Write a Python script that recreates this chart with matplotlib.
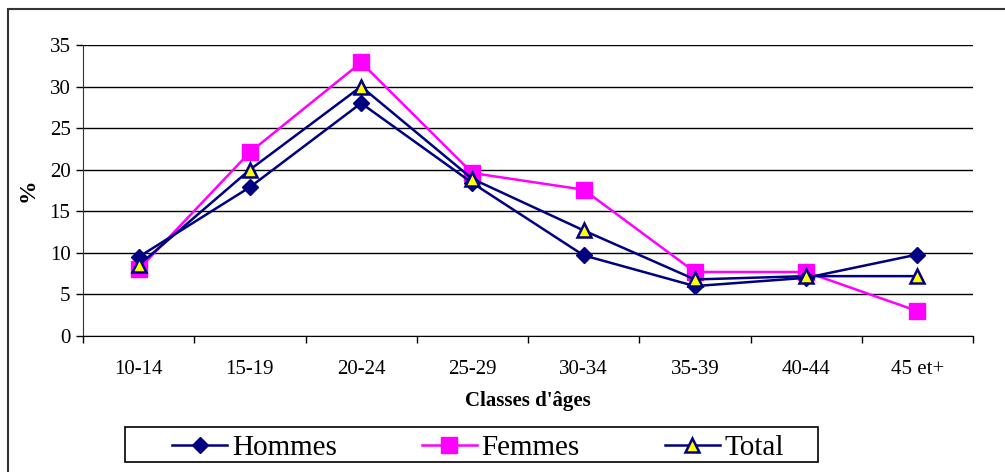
import matplotlib.pyplot as plt
import matplotlib.patches as mpatches

plt.rcParams.update({
    "font.family": ["Liberation Serif", "DejaVu Serif"],
})

NAVY = "#000080"
MAGENTA = "#FF00FF"
YELLOW = "#FFFF00"

classes = ["10-14", "15-19", "20-24", "25-29", "30-34", "35-39", "40-44", "45 et+"]
hommes = [9.5, 17.9, 28.0, 18.4, 9.7, 6.0, 7.0, 9.8]
femmes = [8.0, 22.1, 32.9, 19.6, 17.6, 7.7, 7.7, 3.0]
total = [8.5, 20.0, 30.0, 18.9, 12.7, 6.8, 7.2, 7.2]

W, H = 1005, 472
fig = plt.figure(figsize=(W / 100, H / 100), dpi=100)
ax = fig.add_axes([83 / W, 1 - 336 / H, (973 - 83) / W, (336 - 45) / H])

x = list(range(len(classes)))
ax.plot(x, hommes, color=NAVY, lw=1.8, marker="D", ms=8,
        mfc=NAVY, mec=NAVY, label="Hommes", zorder=3)
ax.plot(x, femmes, color=MAGENTA, lw=1.8, marker="s", ms=11,
        mfc=MAGENTA, mec=MAGENTA, label="Femmes", zorder=2)
ax.plot(x, total, color=NAVY, lw=1.8, marker="^", ms=10,
        mfc=YELLOW, mec=NAVY, mew=1.8, label="Total", zorder=4)

ax.set_xlim(-0.5, len(classes) - 0.5)
ax.set_ylim(0, 35)
ax.set_yticks(range(0, 36, 5))
ax.set_xticks(x)
ax.set_xticklabels(classes)
ax.set_xticks([i - 0.5 for i in range(len(classes) + 1)], minor=True)
ax.tick_params(axis="x", which="major", length=0, pad=17, labelsize=15)
ax.tick_params(axis="x", which="minor", length=5, width=1, direction="out")
ax.tick_params(axis="y", length=5, width=1, direction="out", labelsize=15, pad=4)
ax.grid(axis="y", color="black", lw=1)
ax.set_axisbelow(True)
for s in ["top", "right"]:
    ax.spines[s].set_visible(False)
ax.spines["left"].set_color("#333333")
ax.spines["bottom"].set_color("black")

ax.set_xlabel("Classes d'âges", fontsize=15, fontweight="bold", labelpad=9)
ax.set_ylabel("%", fontsize=17, fontweight="bold", labelpad=8)

# legend: entries spread across, frame drawn separately
leg = fig.legend(loc="center left", bbox_to_anchor=(172 / W, 1 - 465 / H, (784 - 172) / W, 35 / H),
                 mode="expand", ncol=3, fontsize=21, frameon=False,
                 borderaxespad=0, borderpad=0, handlelength=1.9, handletextpad=0.15,
                 columnspacing=1.0)
fig.patches.append(mpatches.Rectangle((125 / W, 1 - 462 / H), (818 - 125) / W, 35 / H,
                                      transform=fig.transFigure, fill=False,
                                      edgecolor="black", lw=1.2))

# outer chart border (cropped on the right and bottom)
fig.patches.append(mpatches.Rectangle((8 / W, -0.1), 1.1, 1 - 9 / H + 0.1,
                                      transform=fig.transFigure, fill=False,
                                      edgecolor="#333333", lw=1.5))

fig.savefig("out.png", dpi=100)
